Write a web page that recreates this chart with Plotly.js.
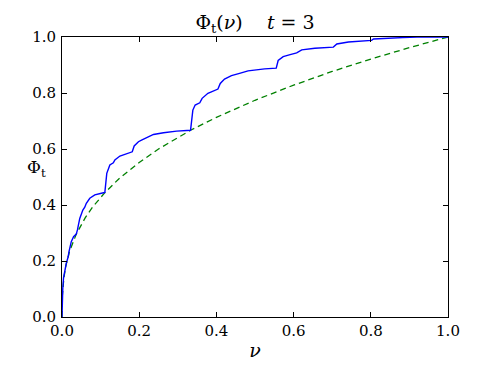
<!DOCTYPE html>
<html>
<head>
<meta charset="utf-8">
<script src="https://cdn.plot.ly/plotly-3.0.1.min.js"></script>
<style>
  html, body { margin: 0; padding: 0; background: #fff; }
  #plot { width: 498px; height: 374px; }
</style>
</head>
<body>
<div id="plot"></div>
<script>
// curva escalonada Phi_t (azul)
var nuBlue = [0, 0.0005, 0.002, 0.004, 0.007, 0.011, 0.016, 0.018, 0.024, 0.030,
  0.037, 0.040, 0.046, 0.054, 0.059, 0.063, 0.072, 0.085, 0.102, 0.111,
  0.116, 0.124, 0.133, 0.137, 0.150, 0.168, 0.182, 0.187, 0.198, 0.206,
  0.224, 0.237, 0.263, 0.297, 0.333, 0.335, 0.339, 0.345, 0.357, 0.363,
  0.378, 0.404, 0.410, 0.421, 0.439, 0.460, 0.482, 0.525, 0.555, 0.560,
  0.573, 0.591, 0.608, 0.621, 0.655, 0.703, 0.712, 0.742, 0.781, 0.802,
  0.807, 0.84, 0.883, 0.92, 1.0];
var phiBlue = [0, 0.05, 0.10, 0.14, 0.168, 0.191, 0.215, 0.233, 0.269, 0.287,
  0.296, 0.311, 0.352, 0.382, 0.392, 0.406, 0.424, 0.436, 0.442, 0.445,
  0.513, 0.543, 0.551, 0.561, 0.575, 0.585, 0.590, 0.611, 0.626, 0.632,
  0.642, 0.652, 0.658, 0.664, 0.667, 0.700, 0.739, 0.757, 0.765, 0.781,
  0.799, 0.814, 0.834, 0.850, 0.862, 0.870, 0.879, 0.886, 0.889, 0.916,
  0.930, 0.937, 0.943, 0.954, 0.960, 0.964, 0.975, 0.982, 0.987, 0.988,
  0.993, 0.996, 0.998, 1.0, 1.0];

// curva suave (verde, discontinua)
var nuGreen = [0, 0.0005, 0.001, 0.005, 0.01, 0.02, 0.037, 0.06, 0.08, 0.111,
  0.15, 0.2, 0.25, 0.333, 0.4, 0.5, 0.6, 0.7, 0.8, 0.9, 1.0];
var phiGreen = [0, 0.06, 0.078, 0.141, 0.183, 0.236, 0.296, 0.354, 0.394, 0.444,
  0.497, 0.552, 0.600, 0.667, 0.713, 0.774, 0.828, 0.877, 0.921, 0.962, 1.0];

var xTicks = [0, 0.2, 0.4, 0.6, 0.8, 1.0];
var yTicks = [0, 0.2, 0.4, 0.6, 0.8, 1.0];

var fuente = 'DejaVu Serif';

var trace1 = {
  x: nuBlue, y: phiBlue, mode: 'lines', type: 'scatter',
  line: {color: '#0000ff', width: 1.4}, hoverinfo: 'skip'
};
var trace2 = {
  x: nuGreen, y: phiGreen, mode: 'lines', type: 'scatter',
  line: {color: '#008000', width: 1.3, dash: '6px,4px'}, hoverinfo: 'skip'
};

var eje = {
  showgrid: false, zeroline: false,
  showline: true, linecolor: '#000', linewidth: 1, mirror: 'ticks',
  ticks: 'inside', ticklen: 5, tickcolor: '#000', tickwidth: 1,
  tickformat: '.1f', tickfont: {family: fuente, size: 15, color: '#000'},
  fixedrange: true
};

var layout = {
  width: 498, height: 374,
  margin: {l: 62, r: 50, t: 37, b: 57},
  paper_bgcolor: '#fff', plot_bgcolor: '#fff',
  showlegend: false,
  font: {family: fuente, color: '#000'},
  title: {
    text: 'Φ<sub>t</sub>(<i>ν</i>)    <i>t</i> = 3',
    font: {family: fuente, size: 19, color: '#000'},
    x: 0.5, xref: 'paper', y: 0.94, yanchor: 'middle'
  },
  xaxis: Object.assign({}, eje, {
    range: [0, 1], tickvals: xTicks,
    title: {text: '<i>ν</i>', font: {family: fuente, size: 19}, standoff: 4}
  }),
  yaxis: Object.assign({}, eje, {
    range: [0, 1], tickvals: yTicks, ticklabelstandoff: 2
  }),
  annotations: [{
    text: 'Φ<sub>t</sub>', xref: 'paper', yref: 'paper',
    x: -0.095, y: 0.53, showarrow: false,
    font: {family: fuente, size: 17, color: '#000'}
  }]
};

Plotly.newPlot('plot', [trace2, trace1], layout, {displayModeBar: false, staticPlot: true});
</script>
</body>
</html>
